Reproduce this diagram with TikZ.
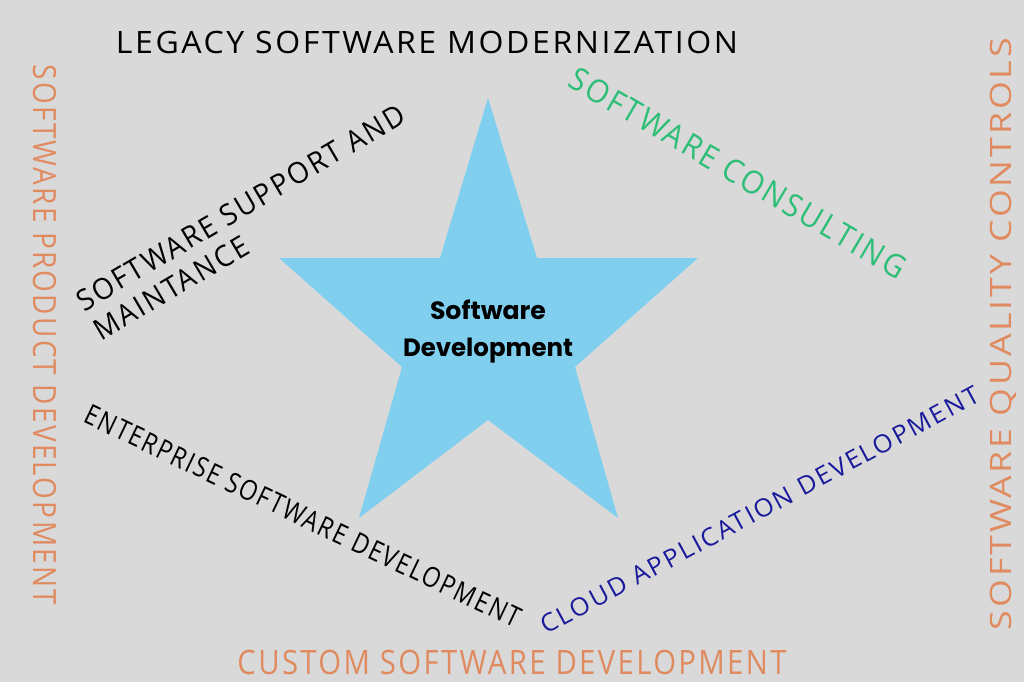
\documentclass[tikz,border=0pt]{standalone}
\usepackage{fontspec}
\usepackage{graphicx}
\setmainfont{Open Sans}
\newfontfamily\starfont{Poppins}
\definecolor{bgc}{HTML}{D9D9D9}
\definecolor{starblue}{HTML}{81CFEF}
\definecolor{orangetxt}{HTML}{E08A60}
\definecolor{greentxt}{HTML}{2DBE78}
\definecolor{navytxt}{HTML}{1A1A9C}
\newcommand{\fitw}[2]{\resizebox{#1}{\height}{#2}}
\newcommand{\capfont}[2]{\fontsize{#1}{#2}\selectfont\addfontfeatures{LetterSpace=8}}
\begin{document}
\begin{tikzpicture}[x=1pt,y=-1pt,
  lbl/.style={inner sep=0pt, outer sep=0pt, anchor=center}]
\fill[bgc] (0,0) rectangle (1024,682);
\useasboundingbox (0,0) rectangle (1024,682);
% star
\fill[starblue] (488,98) -- (537,258) -- (698,258) -- (575,367) -- (618,518)
  -- (488,420) -- (359,518) -- (402,367) -- (279,258) -- (440,258) -- cycle;
\node[lbl, font=\starfont\bfseries\fontsize{25}{37}\selectfont, align=center] (core) at (488,332)
  {\fitw{116pt}{Software}\\\fitw{170pt}{Development}};
% labels
\node[lbl, font=\capfont{30.8}{30.8}] (legacy) at (427,42) {\fitw{622pt}{LEGACY SOFTWARE MODERNIZATION}};
\node[lbl, rotate=-30.4, text=greentxt, font=\capfont{32}{32}] (consult) at (738,173) {\fitw{384pt}{SOFTWARE CONSULTING}};
\node[inner sep=0pt, outer sep=0pt, anchor=base west, rotate=30.5, font=\capfont{29.4}{34}] (support) at (84,312)
  {\fitw{376pt}{\begin{tabular}[t]{@{}l@{}}SOFTWARE SUPPORT AND\\ MAINTANCE\end{tabular}}};
\node[lbl, rotate=-90, text=orangetxt, font=\capfont{32}{32}] (product) at (45,335) {\fitw{540pt}{SOFTWARE PRODUCT DEVELOPMENT}};
\node[lbl, rotate=90, text=orangetxt, font=\capfont{29.4}{29.4}] (quality) at (1003,334) {\fitw{592pt}{SOFTWARE QUALITY CONTROLS}};
\node[lbl, rotate=-25.5, font=\capfont{28}{28}] (enterprise) at (303,516) {\fitw{480pt}{ENTERPRISE SOFTWARE DEVELOPMENT}};
\node[lbl, rotate=28.3, text=navytxt, font=\capfont{25}{25}] (cloud) at (760,510) {\fitw{494pt}{CLOUD APPLICATION DEVELOPMENT}};
\node[lbl, text=orangetxt, font=\capfont{33.6}{33.6}] (custom) at (512,662) {\fitw{549pt}{CUSTOM SOFTWARE DEVELOPMENT}};
\end{tikzpicture}
\end{document}
